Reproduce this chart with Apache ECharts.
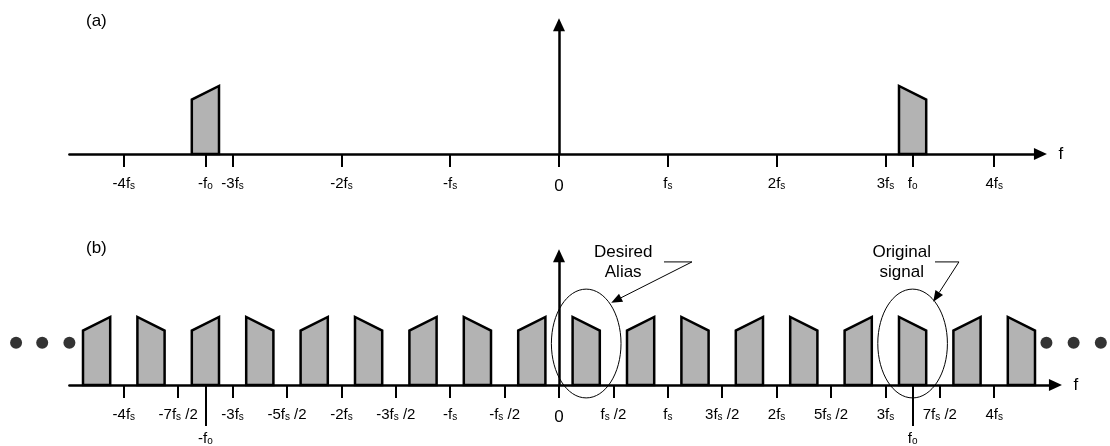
<!DOCTYPE html>
<html><head><meta charset="utf-8">
<script src="https://cdn.jsdelivr.net/npm/echarts@6/dist/echarts.min.js"></script>
<style>html,body{margin:0;padding:0;background:#fff}#c{width:1110px;height:446px}</style>
</head><body><div id="c"></div>
<script>
// ---------------- data (frequencies in units of fs) ----------------
const topTickValues = [-4, -3.25, -3, -2, -1, 0, 1, 2, 3, 3.25, 4];
const topTickLabels = ['-4f_s', '-f_o', '-3f_s', '-2f_s', '-f_s', '0', 'f_s', '2f_s', '3f_s', 'f_o', '4f_s'];
const botTickValues = [-4, -3.5, -3, -2.5, -2, -1.5, -1, -0.5, 0, 0.5, 1, 1.5, 2, 2.5, 3, 3.5, 4];
const botTickLabels = ['-4f_s', '-7f_s /2', '-3f_s', '-5f_s /2', '-2f_s', '-3f_s /2', '-f_s', '-f_s /2', '0',
  'f_s /2', 'f_s', '3f_s /2', '2f_s', '5f_s /2', '3f_s', '7f_s /2', '4f_s'];
const botSignalTicks = [-3.25, 3.25];
const botSignalLabels = ['-f_o', 'f_o'];

// (a) original signal bands: start, end, level at start, level at end
const topBandLo = [-3.375, 3.125];
const topBandHi = [-3.125, 3.375];
const topLevelLo = [0.8, 1.0];
const topLevelHi = [1.0, 0.8];

// (b) sampled spectrum: images of the band
const botBandLo = [-4.375, -3.875, -3.375, -2.875, -2.375, -1.875, -1.375, -0.875, -0.375,
  0.125, 0.625, 1.125, 1.625, 2.125, 2.625, 3.125, 3.625, 4.125];
const botBandHi = [-4.125, -3.625, -3.125, -2.625, -2.125, -1.625, -1.125, -0.625, -0.125,
  0.375, 0.875, 1.375, 1.875, 2.375, 2.875, 3.375, 3.875, 4.375];
const botLevelLo = [0.8, 1.0, 0.8, 1.0, 0.8, 1.0, 0.8, 1.0, 0.8, 1.0, 0.8, 1.0, 0.8, 1.0, 0.8, 1.0, 0.8, 1.0];
const botLevelHi = [1.0, 0.8, 1.0, 0.8, 1.0, 0.8, 1.0, 0.8, 1.0, 0.8, 1.0, 0.8, 1.0, 0.8, 1.0, 0.8, 1.0, 0.8];

// continuation dots
const dotsX = [-4.99, -4.75, -4.5, 4.48, 4.73, 4.98];
const dotsY = [0.62, 0.62, 0.62, 0.62, 0.62, 0.62];

// circled bands
const ringX = [0.25, 3.25];
const ringY = [0.61, 0.61];
const ringRX = [0.32, 0.32];
const ringRY = [0.80, 0.80];

// call-outs
const noteText = ['Desired\nAlias', 'Original\nsignal'];
const noteTextX = [0.59, 3.15];
const noteTextY = [1.81, 1.81];
const noteElbowX0 = [0.965, 3.456];
const noteElbowX1 = [1.222, 3.676];
const noteElbowY = [1.81, 1.81];
const noteTipX = [0.48, 3.44];
const noteTipY = [1.21, 1.225];

// ---------------- layout ----------------
const FONT = 'Liberation Sans, Arial, sans-serif';
const PX = 108.8, CX = 559, PY = 68;
const XMIN = -4.5, XMAX_TOP = 4.425, XMAX_BOT = 4.563, YMAX = 1.9;
const AXIS_TOP = 154, AXIS_BOT = 385;

const RICH = {
  m: { fontSize: 15, lineHeight: 18, fontFamily: FONT, color: '#000', verticalAlign: 'bottom' },
  s: { fontSize: 10, lineHeight: 14.6, fontFamily: FONT, color: '#000', verticalAlign: 'bottom' },
  z: { fontSize: 17, lineHeight: 22, fontFamily: FONT, color: '#000', verticalAlign: 'bottom' }
};
function toRich(lbl) {
  if (lbl === '0') return '{z|0}';
  return lbl.split(/(_\w)/).filter(t => t.length).map(t =>
    t[0] === '_' ? '{s|' + t.slice(1) + '}' : '{m|' + t + '}').join('');
}
function labelFor(vals, lbls) {
  return function (v) {
    for (let i = 0; i < vals.length; i++) if (Math.abs(vals[i] - v) < 1e-6) return toRich(lbls[i]);
    return '';
  };
}
const AXLINE = { color: '#000', width: 2.5 };
const TICKLINE = { color: '#000', width: 2 };

function xAxisMain(grid, max, ticks, labels) {
  return {
    gridIndex: grid, type: 'value', min: XMIN, max: max, position: 'bottom',
    axisLine: { show: true, onZero: true, symbol: ['none', 'triangle'], symbolSize: [12, 13], lineStyle: AXLINE },
    axisTick: { show: true, customValues: ticks, length: 13, lineStyle: TICKLINE },
    axisLabel: { show: true, customValues: ticks, margin: 19, formatter: labelFor(ticks, labels), rich: RICH },
    splitLine: { show: false },
    name: 'f', nameLocation: 'end', nameGap: 18,
    nameTextStyle: { fontSize: 17, color: '#000', fontFamily: FONT }
  };
}
function yAxisMain(grid) {
  return {
    gridIndex: grid, type: 'value', min: 0, max: YMAX,
    axisLine: { show: true, onZero: true, symbol: ['none', 'triangle'], symbolSize: [12, 13], lineStyle: AXLINE },
    axisTick: { show: false }, axisLabel: { show: false }, splitLine: { show: false }
  };
}

function renderBand(params, api) {
  const lo = api.value(0), hi = api.value(1), l0 = api.value(2), l1 = api.value(3);
  const pts = [api.coord([lo, 0]), api.coord([lo, l0]), api.coord([hi, l1]), api.coord([hi, 0])];
  return { type: 'polygon', shape: { points: pts },
    style: { fill: '#b3b3b3', stroke: '#000', lineWidth: 2.5, lineJoin: 'miter' } };
}
function renderRing(params, api) {
  const i = params.dataIndex;
  const c = api.coord([ringX[i], ringY[i]]);
  const sz = api.size([ringRX[i], ringRY[i]]);
  return { type: 'ellipse', shape: { cx: c[0], cy: c[1], rx: sz[0], ry: sz[1] },
    style: { fill: null, stroke: '#000', lineWidth: 1 } };
}
function renderNote(params, api) {
  const i = params.dataIndex;
  const a = api.coord([noteElbowX0[i], noteElbowY[i]]);
  const b = api.coord([noteElbowX1[i], noteElbowY[i]]);
  const t = api.coord([noteTipX[i], noteTipY[i]]);
  const dx = t[0] - b[0], dy = t[1] - b[1], L = Math.hypot(dx, dy);
  const ux = dx / L, uy = dy / L, hl = 11, hw = 4.5;
  const base = [t[0] - ux * hl, t[1] - uy * hl];
  const head = [[t[0], t[1]], [base[0] - uy * hw, base[1] + ux * hw], [base[0] + uy * hw, base[1] - ux * hw]];
  const c = api.coord([noteTextX[i], noteTextY[i]]);
  return { type: 'group', children: [
    { type: 'polyline', shape: { points: [a, b, base] }, style: { stroke: '#000', lineWidth: 1, fill: null } },
    { type: 'polygon', shape: { points: head }, style: { fill: '#000' } },
    { type: 'text', x: c[0], y: c[1], style: { text: noteText[i], fontSize: 17, lineHeight: 20, fontFamily: FONT,
      align: 'center', verticalAlign: 'middle', fill: '#000' } }
  ] };
}

const chart = echarts.init(document.getElementById('c'), null, { renderer: 'canvas' });
chart.setOption({
  animation: false,
  backgroundColor: '#fff',
  textStyle: { fontFamily: FONT },
  title: [
    { text: '(a)', left: 86, top: 11, padding: 0,
      textStyle: { fontSize: 17, fontWeight: 'normal', lineHeight: 20, color: '#000', fontFamily: FONT } },
    { text: '(b)', left: 86, top: 238, padding: 0,
      textStyle: { fontSize: 17, fontWeight: 'normal', lineHeight: 20, color: '#000', fontFamily: FONT } }
  ],
  grid: [
    { left: CX + XMIN * PX, top: AXIS_TOP - YMAX * PY, width: (XMAX_TOP - XMIN) * PX, height: YMAX * PY,
      containLabel: false, outerBoundsMode: 'none' },
    { left: CX + XMIN * PX, top: AXIS_BOT - YMAX * PY, width: (XMAX_BOT - XMIN) * PX, height: YMAX * PY,
      containLabel: false, outerBoundsMode: 'none' }
  ],
  xAxis: [
    xAxisMain(0, XMAX_TOP, topTickValues, topTickLabels),
    xAxisMain(1, XMAX_BOT, botTickValues, botTickLabels),
    { gridIndex: 1, type: 'value', min: XMIN, max: XMAX_BOT, position: 'bottom',
      axisLine: { show: false }, splitLine: { show: false },
      axisTick: { show: true, customValues: botSignalTicks, length: 41, lineStyle: TICKLINE },
      axisLabel: { show: true, customValues: botSignalTicks, margin: 43,
        formatter: labelFor(botSignalTicks, botSignalLabels), rich: RICH } }
  ],
  yAxis: [yAxisMain(0), yAxisMain(1)],
  series: [
    { type: 'custom', xAxisIndex: 0, yAxisIndex: 0, renderItem: renderBand, z: 3,
      data: topBandLo.map((v, i) => [v, topBandHi[i], topLevelLo[i], topLevelHi[i]]) },
    { type: 'custom', xAxisIndex: 1, yAxisIndex: 1, renderItem: renderBand, z: 3,
      data: botBandLo.map((v, i) => [v, botBandHi[i], botLevelLo[i], botLevelHi[i]]) },
    { type: 'scatter', xAxisIndex: 1, yAxisIndex: 1, clip: false, symbol: 'circle', symbolSize: 12,
      itemStyle: { color: '#000' }, data: dotsX.map((v, i) => [v, dotsY[i]]) },
    { type: 'custom', xAxisIndex: 1, yAxisIndex: 1, renderItem: renderRing, z: 4,
      data: ringX.map((v, i) => [v, ringY[i]]) },
    { type: 'custom', xAxisIndex: 1, yAxisIndex: 1, renderItem: renderNote, z: 4,
      data: noteTextX.map((v, i) => [v, noteTextY[i]]) }
  ]
});
</script></body></html>
